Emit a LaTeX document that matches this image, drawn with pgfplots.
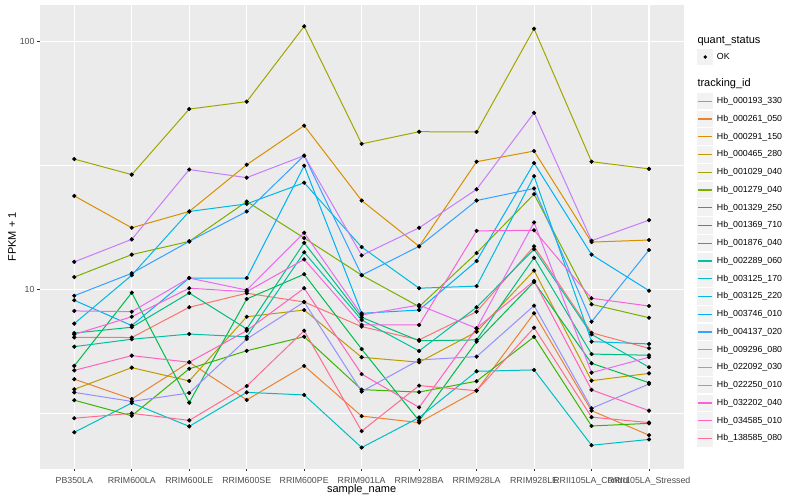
\documentclass[border=0pt]{standalone}
\usepackage{fontspec}
\setmainfont{Liberation Sans}
\usepackage{pgfplots}
\usepackage{pgfplotstable}
\pgfplotsset{compat=1.18}

% ggplot hue palette, 20 levels
\definecolor{c1}{HTML}{F8766D}
\definecolor{c2}{HTML}{EA8331}
\definecolor{c3}{HTML}{D89000}
\definecolor{c4}{HTML}{C09B00}
\definecolor{c5}{HTML}{A3A500}
\definecolor{c6}{HTML}{7CAE00}
\definecolor{c7}{HTML}{39B600}
\definecolor{c8}{HTML}{00BB4E}
\definecolor{c9}{HTML}{00BF7D}
\definecolor{c10}{HTML}{00C1A3}
\definecolor{c11}{HTML}{00BFC4}
\definecolor{c12}{HTML}{00BAE0}
\definecolor{c13}{HTML}{00B0F6}
\definecolor{c14}{HTML}{35A2FF}
\definecolor{c15}{HTML}{9590FF}
\definecolor{c16}{HTML}{C77CFF}
\definecolor{c17}{HTML}{E76BF3}
\definecolor{c18}{HTML}{FA62DB}
\definecolor{c19}{HTML}{FF62BC}
\definecolor{c20}{HTML}{FF6C91}
\definecolor{panel}{HTML}{EBEBEB}
\definecolor{keybg}{HTML}{F2F2F2}
\definecolor{tickgrey}{HTML}{4D4D4D}
\definecolor{tickmark}{HTML}{333333}

% FPKM + 1, one row per sample, one column per tracking_id
\pgfplotstableread{
x  s1    s2   s3   s4   s5    s6   s7   s8   s9   s10  s11  s12  s13  s14  s15  s16  s17  s18  s19  s20
1  6.40  4.34 23.8 3.95 33.5  11.2 3.57 4.91 6.66 5.87 2.65 7.27 9.03 9.42 3.84 12.9 8.18 6.58 4.71 3.02
2  6.39  3.61 17.7 4.83 29.0  13.8 3.09 9.69 7.03 6.29 3.48 11.4 7.14 11.6 3.53 15.9 8.12 7.75 5.40 3.16
3  8.46  5.08 20.6 4.27 53.3  15.6 4.78 3.49 9.66 6.60 2.80 20.6 11.1 15.6 3.82 30.4 11.1 10.1 5.08 2.96
4  9.64  3.58 31.8 7.75 57.1  22.6 5.65 9.14 6.92 6.43 3.84 22.1 11.1 20.6 6.30 28.2 9.93 9.78 6.81 4.07
5  8.89  4.91 45.7 8.25 114.9 16.1 6.44 11.5 15.4 14.1 3.75 26.9 31.5 34.6 8.89 34.6 16.9 13.2 10.1 6.81
6  7.07  3.08 22.8 5.32 38.6  11.4 3.94 5.74 7.71 7.52 2.30 14.8 8.00 11.4 3.87 13.7 7.88 7.18 4.55 2.68
7  6.25  2.90 14.9 5.08 43.2  8.51 3.85 2.95 6.20 5.64 3.04 10.1 8.25 14.9 5.19 17.7 8.64 7.18 3.34 4.09
8  8.12  3.90 32.7 6.74 43.1  14.0 4.26 6.15 6.25 8.46 4.67 10.3 13.0 22.8 5.35 25.3 6.96 17.2 6.96 3.90
9  14.9  8.00 36.1 11.9 112.4 24.2 6.43 10.7 13.4 14.5 4.73 28.6 32.3 25.5 8.59 51.5 18.6 17.3 10.8 7.00
10 6.68  3.24 15.5 4.28 32.7  8.70 2.81 5.03 5.48 6.58 2.35 6.15 13.8 7.40 3.31 15.7 4.61 9.20 3.93 3.05
11 5.78  2.58 15.8 4.58 30.6  7.68 2.88 4.20 5.42 4.85 2.48 6.02 9.87 14.4 4.15 19.0 5.32 8.56 3.24 2.90
}\fpkm

\pgfplotsset{
  keylegend/.style={
    legend style={draw=none, fill=none, inner sep=0pt, row sep=0pt, column sep=4pt,
      font=\fontsize{8.8}{10}\selectfont, cells={anchor=west}, nodes={inner sep=0pt},
      anchor=north west},
  },
  panelbox/.style={
    at={(39.8pt,31.4pt)}, anchor=south west,
    scale only axis, width=643.7pt, height=463.2pt,
  },
}

\begin{document}
\begin{tikzpicture}
\path[use as bounding box, fill=white] (0pt,0pt) rectangle (800pt,500pt);

\begin{axis}[
  panelbox,
  ymode=log, ymin=1.892, ymax=139.6,
  xmin=0.4, xmax=11.6,
  xtick={1,...,11},
  xticklabels={PB350LA,RRIM600LA,RRIM600LE,RRIM600SE,RRIM600PE,RRIM901LA,RRIM928BA,RRIM928LA,RRIM928LE,RRII105LA\_Control,RRII105LA\_Stressed},
  ytick={10,100}, yticklabels={10,100},
  minor ytick={3.1623,31.623},
  grid=both,
  major grid style={white, line width=1.07pt},
  minor grid style={white, line width=0.53pt},
  axis background/.style={fill=panel},
  axis line style={draw=none},
  tick align=outside, tick pos=left,
  major tick length=2.75pt, minor tick length=0pt,
  tick style={tickmark, line width=0.53pt},
  xticklabel style={font=\fontsize{8.8}{10}\selectfont, text=tickgrey, anchor=base, inner sep=0pt, yshift=-11.7pt},
  yticklabel style={font=\fontsize{8.8}{10}\selectfont, text=tickgrey, anchor=east, inner sep=0pt, xshift=-2.4pt},
  xlabel={sample\_name},
  xlabel style={at={(axis description cs:0.5,-0.051)}, anchor=base, inner sep=0pt, font=\fontsize{11}{13}\selectfont},
  ylabel={FPKM + 1},
  ylabel style={at={(axis description cs:-0.0432,0.5)}, anchor=center, inner sep=0pt, font=\fontsize{11}{13}\selectfont},
  keylegend,
  legend style={at={(1.0214,0.8127)}},
  legend image code/.code={
    \path[draw=none, fill=none] (0pt,-8.875pt) rectangle (15.5pt,8.875pt);
    \path[draw=none, fill=keybg] (0pt,-8.25pt) rectangle (15.5pt,8.25pt);
    \draw[#1, line width=1.3pt] (0.8pt,0pt) -- (14.7pt,0pt);
  },
  legend entries={Hb\_000193\_330,Hb\_000261\_050,Hb\_000291\_150,Hb\_000465\_280,Hb\_001029\_040,Hb\_001279\_040,Hb\_001329\_250,Hb\_001369\_710,Hb\_001876\_040,Hb\_002289\_060,Hb\_003125\_170,Hb\_003125\_220,Hb\_003746\_010,Hb\_004137\_020,Hb\_009296\_080,Hb\_022092\_030,Hb\_022250\_010,Hb\_032202\_040,Hb\_034585\_010,Hb\_138585\_080},
]
\pgfplotsinvokeforeach{1,...,20}{
  \addplot[c#1, line width=1pt, no markers] table[x=x, y=s#1] {\fpkm};
}
\pgfplotsinvokeforeach{1,...,20}{
  \addplot[forget plot, only marks, mark=*, mark size=1.9pt, black] table[x=x, y=s#1] {\fpkm};
}
\end{axis}

% second, empty axis only for the quant_status key
\begin{axis}[
  panelbox, hide axis,
  xmin=0, xmax=1, ymin=0, ymax=1,
  keylegend,
  legend style={at={(1.0214,0.9083)}},
  legend image code/.code={
    \path[draw=none, fill=none] (0pt,-8.875pt) rectangle (15.5pt,8.875pt);
    \path[draw=none, fill=keybg] (0pt,-8.25pt) rectangle (15.5pt,8.25pt);
    \path[draw=none, fill=black] (7.75pt,0pt) circle (1.9pt);
  },
]
\addlegendimage{black}
\addlegendentry{OK}
\end{axis}

\node[anchor=base west, inner sep=0pt, font=\fontsize{11}{13}\selectfont] at (697.3pt,456pt) {quant\_status};
\node[anchor=base west, inner sep=0pt, font=\fontsize{11}{13}\selectfont] at (697.3pt,413pt) {tracking\_id};
\end{tikzpicture}
\end{document}
